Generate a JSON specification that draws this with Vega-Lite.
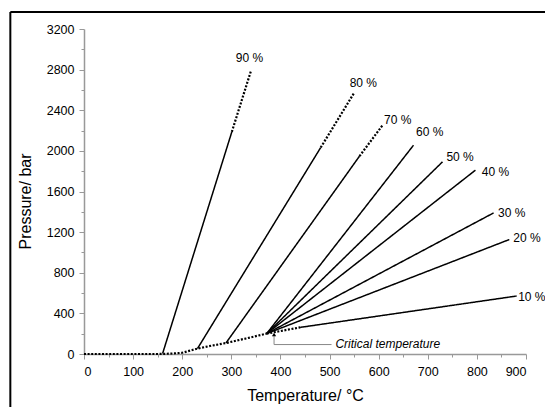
{
  "$schema": "https://vega.github.io/schema/vega-lite/v6.json",
  "width": 442,
  "height": 325,
  "autosize": "none",
  "padding": {"left": 84, "top": 29, "right": 19, "bottom": 53},
  "background": "white",
  "config": {
    "view": {"stroke": null},
    "font": "Liberation Sans",
    "axis": {
      "grid": false,
      "domainColor": "#999999",
      "domainWidth": 1.5,
      "tickColor": "#999999",
      "tickWidth": 1,
      "labelColor": "black",
      "labelFont": "Liberation Sans",
      "labelFontSize": 12.5,
      "titleFont": "Liberation Sans",
      "titleFontSize": 16,
      "titleFontWeight": "normal",
      "titleColor": "black"
    }
  },
  "datasets": {
    "frame": [
      {"t": -150, "p": 3367, "t2": -150, "p2": -700},
      {"t": -150, "p": 3367, "t2": 1300, "p2": 3367}
    ],
    "lines": [
      {"seg": "vap", "style": "dotted", "o": 1, "t": 0, "p": 0},
      {"seg": "vap", "style": "dotted", "o": 2, "t": 150, "p": 0},
      {"seg": "vap", "style": "dotted", "o": 3, "t": 175, "p": 3},
      {"seg": "vap", "style": "dotted", "o": 4, "t": 200, "p": 12},
      {"seg": "vap", "style": "dotted", "o": 5, "t": 231, "p": 53},
      {"seg": "vap", "style": "dotted", "o": 6, "t": 260, "p": 82},
      {"seg": "vap", "style": "dotted", "o": 7, "t": 289, "p": 108},
      {"seg": "vap", "style": "dotted", "o": 8, "t": 330, "p": 153},
      {"seg": "vap", "style": "dotted", "o": 9, "t": 372, "p": 201},
      {"seg": "10d", "style": "dotted", "o": 1, "t": 372, "p": 201},
      {"seg": "10d", "style": "dotted", "o": 2, "t": 440, "p": 262},
      {"seg": "10s", "style": "solid", "o": 1, "t": 440, "p": 262},
      {"seg": "10s", "style": "solid", "o": 2, "t": 881, "p": 571},
      {"seg": "20s", "style": "solid", "o": 1, "t": 372, "p": 201},
      {"seg": "20s", "style": "solid", "o": 2, "t": 866, "p": 1127},
      {"seg": "30s", "style": "solid", "o": 1, "t": 372, "p": 201},
      {"seg": "30s", "style": "solid", "o": 2, "t": 834, "p": 1389},
      {"seg": "40s", "style": "solid", "o": 1, "t": 372, "p": 201},
      {"seg": "40s", "style": "solid", "o": 2, "t": 797, "p": 1810},
      {"seg": "50s", "style": "solid", "o": 1, "t": 372, "p": 201},
      {"seg": "50s", "style": "solid", "o": 2, "t": 730, "p": 1892},
      {"seg": "60s", "style": "solid", "o": 1, "t": 372, "p": 201},
      {"seg": "60s", "style": "solid", "o": 2, "t": 671, "p": 2056},
      {"seg": "70s", "style": "solid", "o": 1, "t": 289, "p": 108},
      {"seg": "70s", "style": "solid", "o": 2, "t": 561, "p": 1948},
      {"seg": "70d", "style": "dotted", "o": 1, "t": 561, "p": 1948},
      {"seg": "70d", "style": "dotted", "o": 2, "t": 608, "p": 2253},
      {"seg": "80s", "style": "solid", "o": 1, "t": 231, "p": 53},
      {"seg": "80s", "style": "solid", "o": 2, "t": 482, "p": 2033},
      {"seg": "80d", "style": "dotted", "o": 1, "t": 482, "p": 2033},
      {"seg": "80d", "style": "dotted", "o": 2, "t": 550, "p": 2571},
      {"seg": "90s", "style": "solid", "o": 1, "t": 160, "p": 4},
      {"seg": "90s", "style": "solid", "o": 2, "t": 301, "p": 2187},
      {"seg": "90d", "style": "dotted", "o": 1, "t": 301, "p": 2187},
      {"seg": "90d", "style": "dotted", "o": 2, "t": 340, "p": 2788}
    ],
    "leader": [
      {"o": 1, "t": 387, "p": 195},
      {"o": 2, "t": 387, "p": 93},
      {"o": 3, "t": 504, "p": 93}
    ],
    "arrow": [{"t": 387, "p": 192}],
    "labels": [
      {"label": "90 %", "t": 309, "p": 2911},
      {"label": "80 %", "t": 541, "p": 2671},
      {"label": "70 %", "t": 611, "p": 2304},
      {"label": "60 %", "t": 676, "p": 2189},
      {"label": "50 %", "t": 738, "p": 1943},
      {"label": "40 %", "t": 810, "p": 1795},
      {"label": "30 %", "t": 843, "p": 1391},
      {"label": "20 %", "t": 874, "p": 1139},
      {"label": "10 %", "t": 884, "p": 564}
    ],
    "note": [{"label": "Critical temperature", "t": 512, "p": 95}]
  },
  "encoding": {
    "x": {
      "field": "t",
      "type": "quantitative",
      "scale": {"domain": [0, 900], "nice": false, "zero": false},
      "axis": {
        "title": "Temperature/ °C",
        "format": "d",
        "values": [0, 50, 100, 150, 200, 250, 300, 350, 400, 450, 500, 550, 600, 650, 700, 750, 800, 850, 900],
        "labelExpr": "datum.value % 100 === 0 ? datum.label : ''",
        "tickSize": {"condition": {"test": "datum.value % 100 === 0", "value": 5}, "value": 3},
        "labelPadding": 6,
        "titlePadding": 10
      }
    },
    "y": {
      "field": "p",
      "type": "quantitative",
      "scale": {"domain": [0, 3200], "nice": false, "zero": false},
      "axis": {
        "title": "Pressure/ bar",
        "format": "d",
        "values": [0, 200, 400, 600, 800, 1000, 1200, 1400, 1600, 1800, 2000, 2200, 2400, 2600, 2800, 3000, 3200],
        "labelExpr": "datum.value % 400 === 0 ? datum.label : ''",
        "tickSize": {"condition": {"test": "datum.value % 400 === 0", "value": 5}, "value": 3},
        "labelPadding": 5,
        "titlePadding": 13,
        "titleY": 172
      }
    }
  },
  "layer": [
    {
      "data": {"name": "frame"},
      "mark": {"type": "rule", "color": "black", "strokeWidth": 2},
      "encoding": {"x2": {"field": "t2"}, "y2": {"field": "p2"}}
    },
    {
      "data": {"name": "lines"},
      "mark": {"type": "line", "color": "black"},
      "encoding": {
        "detail": {"field": "seg"},
        "order": {"field": "o", "type": "quantitative"},
        "strokeDash": {"field": "style", "type": "nominal", "scale": {"domain": ["solid", "dotted"], "range": [[1, 0], [2, 1.6]]}, "legend": null},
        "strokeWidth": {"field": "style", "type": "nominal", "scale": {"domain": ["solid", "dotted"], "range": [1.5, 2.2]}, "legend": null}
      }
    },
    {
      "data": {"name": "leader"},
      "mark": {"type": "line", "color": "#888888", "strokeWidth": 1},
      "encoding": {"order": {"field": "o", "type": "quantitative"}}
    },
    {
      "data": {"name": "arrow"},
      "mark": {"type": "point", "shape": "triangle-up", "filled": true, "color": "black", "size": 18, "opacity": 1},
      "encoding": {}
    },
    {
      "data": {"name": "labels"},
      "mark": {"type": "text", "align": "left", "baseline": "middle", "fontSize": 12, "font": "Liberation Sans", "color": "black"},
      "encoding": {"text": {"field": "label"}}
    },
    {
      "data": {"name": "note"},
      "mark": {"type": "text", "align": "left", "baseline": "middle", "fontSize": 12, "fontStyle": "italic", "font": "Liberation Sans", "color": "black"},
      "encoding": {"text": {"field": "label"}}
    }
  ]
}
